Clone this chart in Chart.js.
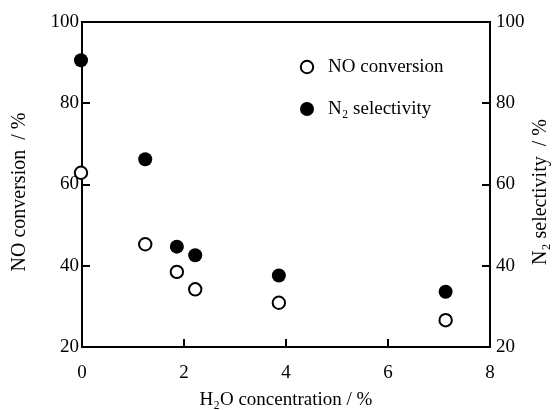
<!DOCTYPE html>
<html lang="en">
<head>
  <meta charset="UTF-8">
  <title>NO conversion and N2 selectivity vs H2O</title>
  <script src="https://cdn.jsdelivr.net/npm/chart.js"></script>
  <style>
    body { margin: 0; background: #fff; }
    canvas { display: block; }
  </style>
</head>
<body>
  <canvas id="myChart" width="558" height="410"></canvas>

  <script>
    // values
    const h2o = [-0.02, 1.24, 1.86, 2.22, 3.86, 7.13];
    const noConversion = [62.9, 45.3, 38.5, 34.2, 30.9, 26.6];
    const n2Selectivity = [90.6, 66.2, 44.7, 42.6, 37.6, 33.6];
    const xTicks = [0, 2, 4, 6, 8];
    const yTicks = [20, 40, 60, 80, 100];

    const serif = 'Liberation Serif';
    const fontSize = 19;
    const tickLen = 8;

    const pts = (ys) => h2o.map((x, i) => ({ x: x, y: ys[i] }));

    const axisLine = { display: true, color: '#000', width: 2 };
    const noGrid = { display: false, drawTicks: false };

    // inward tick marks, top frame line, legend inside the plot, y titles
    const extras = {
      id: 'extras',
      afterDatasetsDraw(chart) {
        const ctx = chart.ctx;
        const a = chart.chartArea;
        const { x, y, y1 } = chart.scales;
        ctx.save();
        ctx.strokeStyle = '#000';
        ctx.lineWidth = 2;
        ctx.beginPath();
        ctx.moveTo(a.left - 1, a.top);
        ctx.lineTo(a.right + 1, a.top);
        x.ticks.forEach(t => {
          const px = Math.round(x.getPixelForValue(t.value));
          ctx.moveTo(px, a.bottom);
          ctx.lineTo(px, a.bottom - tickLen);
        });
        y.ticks.forEach(t => {
          const py = Math.round(y.getPixelForValue(t.value));
          ctx.moveTo(a.left, py);
          ctx.lineTo(a.left + tickLen, py);
        });
        y1.ticks.forEach(t => {
          const py = Math.round(y1.getPixelForValue(t.value));
          ctx.moveTo(a.right, py);
          ctx.lineTo(a.right - tickLen, py);
        });
        ctx.stroke();

        const items = [
          { text: 'NO conversion', filled: false },
          { text: 'N\u2082 selectivity', filled: true }
        ];
        ctx.font = fontSize + 'px "' + serif + '"';
        ctx.textBaseline = 'middle';
        ctx.textAlign = 'left';
        items.forEach((it, i) => {
          const cx = a.left + 225;
          const cy = a.top + 45 + i * 42;
          ctx.beginPath();
          ctx.arc(cx, cy, it.filled ? 7 : 6.2, 0, Math.PI * 2);
          if (it.filled) {
            ctx.fillStyle = '#000';
            ctx.fill();
          } else {
            ctx.lineWidth = 2;
            ctx.stroke();
          }
          ctx.fillStyle = '#000';
          ctx.fillText(it.text, cx + 21, cy);
        });

        // axis titles for both y axes read bottom-to-top
        ctx.font = '20px "' + serif + '"';
        ctx.textAlign = 'center';
        const titles = [
          { text: 'NO conversion  / %', cx: 20 },
          { text: 'N\u2082 selectivity  / %', cx: chart.width - 17 }
        ];
        titles.forEach(tt => {
          ctx.save();
          ctx.translate(tt.cx, 192);
          ctx.rotate(-Math.PI / 2);
          ctx.fillText(tt.text, 0, 0);
          ctx.restore();
        });
        ctx.restore();
      }
    };

    const ctx = document.getElementById('myChart').getContext('2d');
    new Chart(ctx, {
      type: 'scatter',
      data: {
        datasets: [
          {
            label: 'NO conversion',
            data: pts(noConversion),
            yAxisID: 'y',
            pointRadius: 6.2,
            pointBorderWidth: 2,
            pointBackgroundColor: '#fff',
            pointBorderColor: '#000',
            clip: false
          },
          {
            label: 'N2 selectivity',
            data: pts(n2Selectivity),
            yAxisID: 'y1',
            pointRadius: 7,
            pointBorderWidth: 0,
            pointBackgroundColor: '#000',
            pointBorderColor: '#000',
            clip: false
          }
        ]
      },
      options: {
        responsive: false,
        animation: false,
        devicePixelRatio: 1,
        layout: { padding: { top: 22, left: 0, right: 0, bottom: 0 } },
        plugins: {
          legend: { display: false },
          tooltip: { enabled: false }
        },
        scales: {
          x: {
            type: 'linear',
            position: 'bottom',
            min: 0,
            max: 8,
            afterBuildTicks: (s) => { s.ticks = xTicks.map(v => ({ value: v })); },
            afterFit: (s) => { s.height = 63; },
            grid: noGrid,
            border: axisLine,
            ticks: { color: '#000', padding: 15, font: { family: serif, size: fontSize } },
            title: {
              display: true,
              text: 'H\u2082O concentration / %',
              color: '#000',
              padding: 0,
              font: { family: serif, size: fontSize, lineHeight: 1 }
            }
          },
          y: {
            type: 'linear',
            position: 'left',
            min: 20,
            max: 100,
            afterBuildTicks: (s) => { s.ticks = yTicks.map(v => ({ value: v })); },
            afterFit: (s) => { s.width = 82; },
            grid: noGrid,
            border: axisLine,
            ticks: { color: '#000', padding: 3, font: { family: serif, size: fontSize } }
          },
          y1: {
            type: 'linear',
            position: 'right',
            min: 20,
            max: 100,
            afterBuildTicks: (s) => { s.ticks = yTicks.map(v => ({ value: v })); },
            afterFit: (s) => { s.width = 68; },
            grid: noGrid,
            border: axisLine,
            ticks: { color: '#000', padding: 6, font: { family: serif, size: fontSize } }
          }
        }
      },
      plugins: [extras]
    });
  </script>
</body>
</html>
